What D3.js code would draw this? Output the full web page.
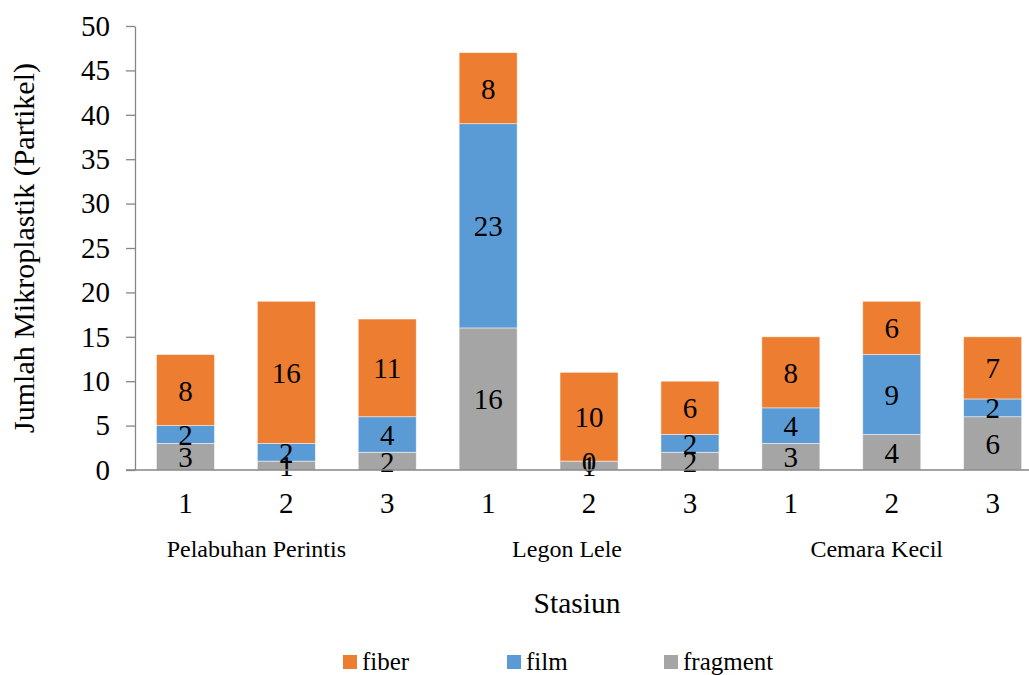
<!DOCTYPE html>
<html>
<head>
<meta charset="utf-8">
<script src="https://cdn.jsdelivr.net/npm/d3@7"></script>
<style>
  html, body { margin: 0; padding: 0; background: #fff; }
  svg { display: block; }
</style>
</head>
<body>
<svg id="chart" width="1029" height="675"></svg>
<script>
// Stations and sampling points
const groups = ["Pelabuhan Perintis", "Legon Lele", "Cemara Kecil"];
const points = ["1", "2", "3"];

// Microplastic counts per sampling point (particles)
const fragment = [3, 1, 2, 16, 1, 2, 3, 4, 6];
const film     = [2, 2, 4, 23, 0, 2, 4, 9, 2];
const fiber    = [8, 16, 11, 8, 10, 6, 8, 6, 7];

const yTicks = [0, 5, 10, 15, 20, 25, 30, 35, 40, 45, 50];

const seriesNames = ["fragment", "film", "fiber"];
const seriesColors = { fragment: "#A5A5A5", film: "#5B9BD5", fiber: "#ED7D31" };
const legendOrder = ["fiber", "film", "fragment"];

const FONT = "'Liberation Serif', 'Times New Roman', serif";

const rows = fragment.map((_, i) => ({
  idx: i,
  point: points[i % 3],
  group: groups[Math.floor(i / 3)],
  fragment: fragment[i],
  film: film[i],
  fiber: fiber[i]
}));

const svg = d3.select("#chart");
const plotLeft = 135, plotTop = 26, plotBottom = 470;
const step = 100.9;
const plotRight = plotLeft + step * rows.length;

const x = d3.scaleBand()
  .domain(rows.map(d => d.idx))
  .range([plotLeft, plotRight])
  .paddingInner(0.425)
  .paddingOuter(0.2125);

const y = d3.scaleLinear().domain([0, 50]).range([plotBottom, plotTop]);

function serif(sel, size) {
  return sel.style("font-family", FONT).style("font-size", size + "px").style("fill", "#000");
}

// Stacked bars
const stack = d3.stack().keys(seriesNames)(rows);

const layers = svg.append("g").selectAll("g")
  .data(stack)
  .join("g")
  .attr("fill", s => seriesColors[s.key]);

layers.selectAll("rect")
  .data(s => s)
  .join("rect")
  .attr("x", d => x(d.data.idx))
  .attr("width", x.bandwidth())
  .attr("y", d => y(d[1]))
  .attr("height", d => y(d[0]) - y(d[1]))
  .attr("stroke", "#ffffff")
  .attr("stroke-opacity", 0.6)
  .attr("stroke-width", 0.8);

// Value labels centred in each segment
svg.append("g").selectAll("g")
  .data(stack)
  .join("g")
  .selectAll("text")
  .data(s => s.map(d => ({ d, key: s.key })))
  .join("text")
  .attr("x", o => x(o.d.data.idx) + x.bandwidth() / 2)
  .attr("y", o => y((o.d[0] + o.d[1]) / 2))
  .attr("dy", "0.36em")
  .attr("text-anchor", "middle")
  .text(o => o.d.data[o.key])
  .call(serif, 29);

// Y axis
const yAxis = d3.axisLeft(y).tickValues(yTicks).tickSize(9).tickSizeOuter(0).tickPadding(16);
const gy = svg.append("g").attr("transform", `translate(${plotLeft},0)`).call(yAxis);
gy.select(".domain").attr("stroke", "#868686").attr("stroke-width", 1.3);
gy.selectAll(".tick line").attr("stroke", "#868686").attr("stroke-width", 1.3);
gy.selectAll(".tick text").call(serif, 29);

// X axis baseline
svg.append("line")
  .attr("x1", plotLeft - 9).attr("x2", plotRight)
  .attr("y1", y(0)).attr("y2", y(0))
  .attr("stroke", "#868686").attr("stroke-width", 1.3);

// Sampling point labels
svg.append("g").selectAll("text")
  .data(rows)
  .join("text")
  .attr("x", d => x(d.idx) + x.bandwidth() / 2)
  .attr("y", 513)
  .attr("text-anchor", "middle")
  .text(d => d.point)
  .call(serif, 29);

// Station labels
const groupShift = [-30, -22, -15];
svg.append("g").selectAll("text")
  .data(groups)
  .join("text")
  .attr("x", (g, i) => x(i * 3 + 1) + x.bandwidth() / 2 + groupShift[i])
  .attr("y", 557)
  .attr("text-anchor", "middle")
  .text(g => g)
  .call(serif, 24);

// Axis titles
svg.append("text")
  .attr("x", 577).attr("y", 613)
  .attr("text-anchor", "middle")
  .text("Stasiun")
  .call(serif, 29.5);

svg.append("text")
  .attr("transform", "translate(34,248) rotate(-90)")
  .attr("text-anchor", "middle")
  .text("Jumlah Mikroplastik (Partikel)")
  .call(serif, 30);

// Legend
const legendX = [343, 507, 664];
const lg = svg.append("g").selectAll("g")
  .data(legendOrder)
  .join("g")
  .attr("transform", (k, i) => `translate(${legendX[i]},0)`);
lg.append("rect")
  .attr("x", 0).attr("y", 655)
  .attr("width", 14).attr("height", 14)
  .attr("fill", k => seriesColors[k]);
lg.append("text")
  .attr("x", 19).attr("y", 670)
  .text(k => k)
  .call(serif, 25);
</script>
</body>
</html>
